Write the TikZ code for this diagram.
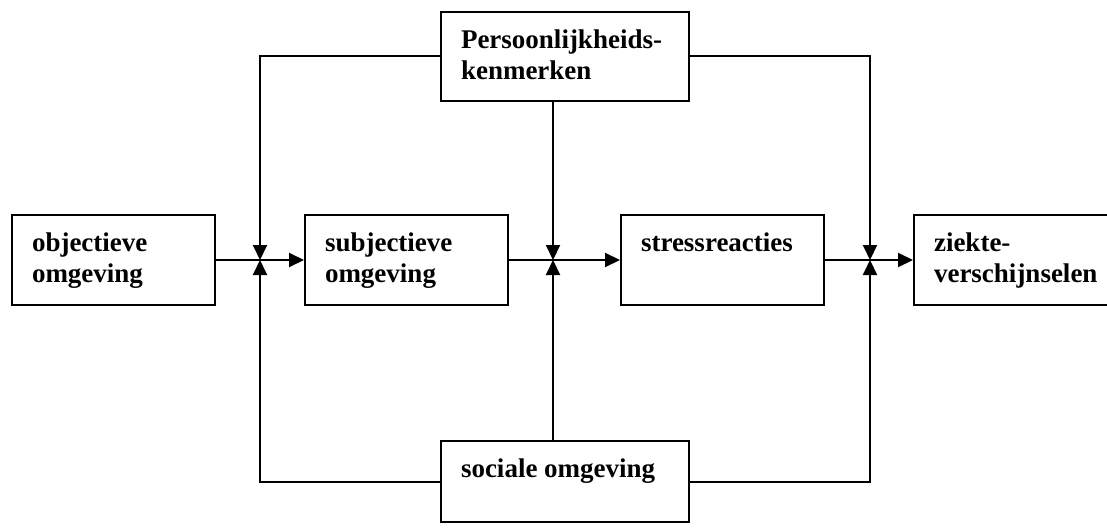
\documentclass[tikz,border=0pt]{standalone}
\usepackage{fontspec}
\setmainfont{Liberation Serif}
\usetikzlibrary{arrows.meta}
\begin{document}
\begin{tikzpicture}
[x=1pt,y=-1pt,line width=2pt,
blok/.style={draw,line width=2pt,minimum width=203pt,minimum height=90pt,inner sep=0pt},
tekst/.style={anchor=north west,inner xsep=20pt,inner ysep=18pt,align=left,font=\bfseries\fontsize{27}{31}\selectfont},
pijl/.style={-{Triangle[length=15pt,width=14pt]}}]

\useasboundingbox (0,0) rectangle (1107,527);
\clip (0,0) rectangle (1107,527);

\node (obj) at (113.5,260) [blok] {};
\node (subj) at (406.5,260) [blok] {};
\node (stress) at (722.5,260) [blok] {};
\node (ziekte) at (1015.5,260) [blok] {};
\node (pers) at (565,56.5) [blok,minimum width=248pt,minimum height=89pt] {};
\node (soc) at (565,481.5) [blok,minimum width=248pt,minimum height=81pt] {};

\node (tobj) at (obj.north west) [tekst] {objectieve\\omgeving};
\node (tsubj) at (subj.north west) [tekst] {subjectieve\\omgeving};
\node (tstress) at (stress.north west) [tekst] {stressreacties};
\node (tziekte) at (ziekte.north west) [tekst] {ziekte-\\verschijnselen};
\node (tpers) at (pers.north west) [tekst] {Persoonlijkheids-\\kenmerken};
\node (tsoc) at (soc.north west) [tekst] {sociale omgeving};

\coordinate (j1) at (260,260);
\coordinate (j2) at (553,260);
\coordinate (j3) at (870,260);

\foreach \from/\to in {obj/subj,subj/stress,stress/ziekte}
	\draw[pijl] (\from) -- (\to);

\draw[pijl] (pers.west) -| (j1);
\draw[pijl] (pers.south -| j2) -- (j2);
\draw[pijl] (pers.east) -| (j3);

\draw[pijl] (soc.west) -| (j1);
\draw[pijl] (soc.north -| j2) -- (j2);
\draw[pijl] (soc.east) -| (j3);

\end{tikzpicture}
\end{document}
